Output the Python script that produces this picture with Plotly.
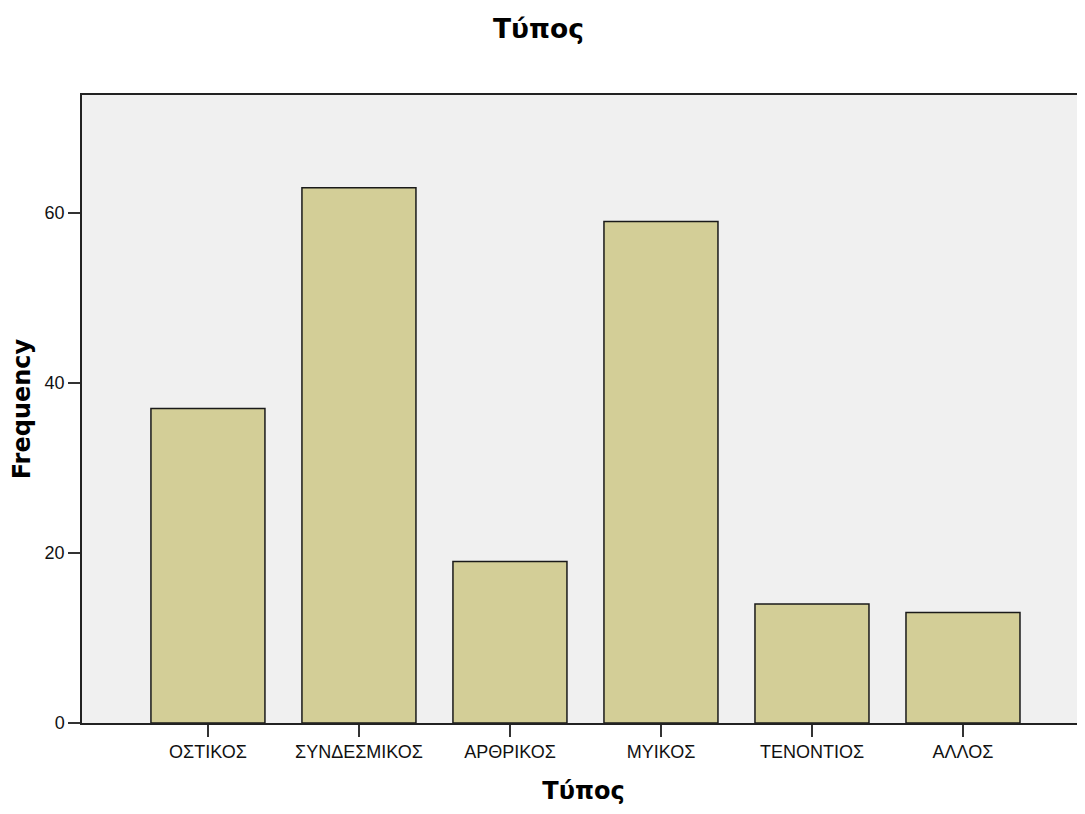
import plotly.graph_objects as go

categories = ["ΟΣΤΙΚΟΣ", "ΣΥΝΔΕΣΜΙΚΟΣ", "ΑΡΘΡΙΚΟΣ", "ΜΥΙΚΟΣ", "ΤΕΝΟΝΤΙΟΣ", "ΑΛΛΟΣ"]
frequency = [37, 63, 19, 59, 14, 13]
y_ticks = [0, 20, 40, 60]

# page body has an 8px margin; figure sized so plot fills the viewport like the reference
W, H = 1077, 806
L, T, B = 74, 87, 91
PW, PH = W - L, H - T - B

tick_font = dict(family="Liberation Sans, Arial, sans-serif", size=18, color="#111")
title_font = dict(family="DejaVu Sans", size=24, color="#000")
main_title_font = dict(family="DejaVu Sans", size=26.5, color="#000")

fig = go.Figure()
fig.add_trace(go.Bar(
    x=categories, y=frequency,
    marker=dict(color="#d3ce97", line=dict(color="#1a1a1a", width=1.5)),
    width=0.755,
))

fig.update_layout(
    width=W, height=H,
    margin=dict(l=L, r=0, t=T, b=B),
    paper_bgcolor="white",
    plot_bgcolor="#f0f0f0",
    showlegend=False,
    font=tick_font,
    annotations=[
        dict(text="<b>Τύπος</b>", x=(530 - L) / PW, y=1 + (T - 20) / PH,
             xref="paper", yref="paper", showarrow=False, font=main_title_font,
             xanchor="center", yanchor="middle"),
    ],
)

fig.update_xaxes(
    type="category",
    range=[-0.834, 5.808],
    showline=True, linecolor="#222", linewidth=1.5, mirror=True,
    ticks="outside", ticklen=12, tickcolor="#333", tickwidth=1.5,
    showgrid=False,
    tickfont=tick_font,
    title=dict(text="<b>Τύπος</b>", font=title_font, standoff=21),
)
fig.update_yaxes(
    range=[0, 73.9],
    tickvals=y_ticks,
    showline=True, linecolor="#222", linewidth=1.5, mirror=False,
    ticks="outside", ticklen=12, tickcolor="#333", tickwidth=1.5,
    showgrid=False, zeroline=False,
    tickfont=tick_font,
    title=dict(text="<b>Frequency</b>", font=title_font, standoff=8),
)

fig.write_html("out.html")
